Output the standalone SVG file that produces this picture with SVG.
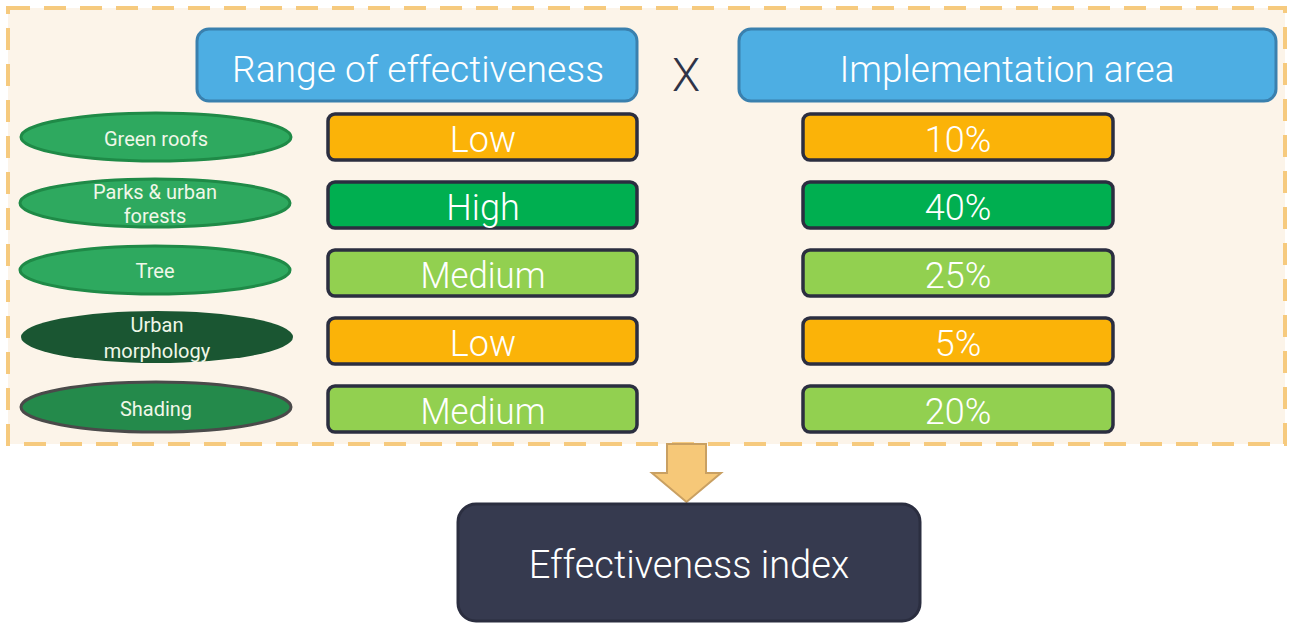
<svg xmlns="http://www.w3.org/2000/svg" width="1290" height="624" viewBox="0 0 1290 624">
<style>
.hdr{fill:#4DAEE3;stroke:#3A80AE;stroke-width:3}
.hdrt{font-family:Roboto,"Liberation Sans",sans-serif;font-size:37px;font-weight:300;fill:#ffffff;text-anchor:middle}
.bar{stroke:#2B2E40;stroke-width:3.5}
.bart{font-family:Roboto,"Liberation Sans",sans-serif;font-size:36px;font-weight:300;fill:#ffffff;text-anchor:middle}
.lo{fill:#FBB308}.hi{fill:#00AF50}.md{fill:#92D050}
.el{stroke-width:3}
.elt{font-family:Roboto,"Liberation Sans",sans-serif;font-size:20px;fill:#F0F7E8;text-anchor:middle}
</style>
<rect x="8" y="8" width="1277" height="436" fill="#FCF4E9" stroke="#F6CA7E" stroke-width="4" stroke-dasharray="22,14"/>
<g id="header-range"><rect class="hdr" x="197" y="29" width="440" height="72" rx="12"/><text class="hdrt" x="418" y="82" textLength="372" lengthAdjust="spacingAndGlyphs">Range of effectiveness</text></g>
<g id="times"><text x="686" y="91" font-family="Roboto,'Liberation Sans',sans-serif" font-size="46" font-weight="300" fill="#2F3347" text-anchor="middle">X</text></g>
<g id="header-area"><rect class="hdr" x="739" y="29" width="537" height="72" rx="12"/><text class="hdrt" x="1007" y="82" textLength="335" lengthAdjust="spacingAndGlyphs">Implementation area</text></g>

<g id="green-roofs"><ellipse class="el" cx="156" cy="137" rx="135" ry="24" fill="#2EA95F" stroke="#1F8A47"/><text class="elt" x="156" y="146">Green roofs</text></g>
<g id="parks"><ellipse class="el" cx="155" cy="203" rx="135" ry="24" fill="#2EA95F" stroke="#1F8A47"/><text class="elt" x="155" y="199">Parks &amp; urban</text><text class="elt" x="155" y="223">forests</text></g>
<g id="tree"><ellipse class="el" cx="155" cy="270" rx="135" ry="24" fill="#2EA95F" stroke="#1F8A47"/><text class="elt" x="155" y="278">Tree</text></g>
<g id="urban-morphology"><ellipse cx="157" cy="337" rx="136" ry="26" fill="#1A5632"/><text class="elt" x="157" y="332">Urban</text><text class="elt" x="157" y="358">morphology</text></g>
<g id="shading"><ellipse class="el" cx="156" cy="407" rx="135" ry="25" fill="#248A4B" stroke="#4A4A4A"/><text class="elt" x="156" y="416">Shading</text></g>

<g id="eff-1"><rect class="bar lo" x="328" y="114" width="309" height="46" rx="7"/><text class="bart" x="483" y="152">Low</text></g>
<g id="eff-2"><rect class="bar hi" x="328" y="182" width="309" height="46" rx="7"/><text class="bart" x="483" y="220">High</text></g>
<g id="eff-3"><rect class="bar md" x="328" y="250" width="309" height="46" rx="7"/><text class="bart" x="483" y="288" textLength="125" lengthAdjust="spacingAndGlyphs">Medium</text></g>
<g id="eff-4"><rect class="bar lo" x="328" y="318" width="309" height="46" rx="7"/><text class="bart" x="483" y="356">Low</text></g>
<g id="eff-5"><rect class="bar md" x="328" y="386" width="309" height="46" rx="7"/><text class="bart" x="483" y="424" textLength="125" lengthAdjust="spacingAndGlyphs">Medium</text></g>

<g id="area-1"><rect class="bar lo" x="803" y="114" width="310" height="46" rx="7"/><text class="bart" x="958" y="152">10%</text></g>
<g id="area-2"><rect class="bar hi" x="803" y="182" width="310" height="46" rx="7"/><text class="bart" x="958" y="220">40%</text></g>
<g id="area-3"><rect class="bar md" x="803" y="250" width="310" height="46" rx="7"/><text class="bart" x="958" y="288">25%</text></g>
<g id="area-4"><rect class="bar lo" x="803" y="318" width="310" height="46" rx="7"/><text class="bart" x="958" y="356">5%</text></g>
<g id="area-5"><rect class="bar md" x="803" y="386" width="310" height="46" rx="7"/><text class="bart" x="958" y="424">20%</text></g>

<g id="connectors"><path d="M667,444 L706,444 L706,473 L721,473 L686.5,502 L652,473 L667,473 Z" fill="#F6C878" stroke="#C9A062" stroke-width="2"/></g>

<g id="effectiveness-index"><rect x="458" y="504" width="462" height="117" rx="18" fill="#363A4F" stroke="#2B2E40" stroke-width="3"/><text x="689" y="578" font-family="Roboto,'Liberation Sans',sans-serif" font-size="38" font-weight="300" fill="#ffffff" text-anchor="middle">Effectiveness index</text></g>
</svg>
